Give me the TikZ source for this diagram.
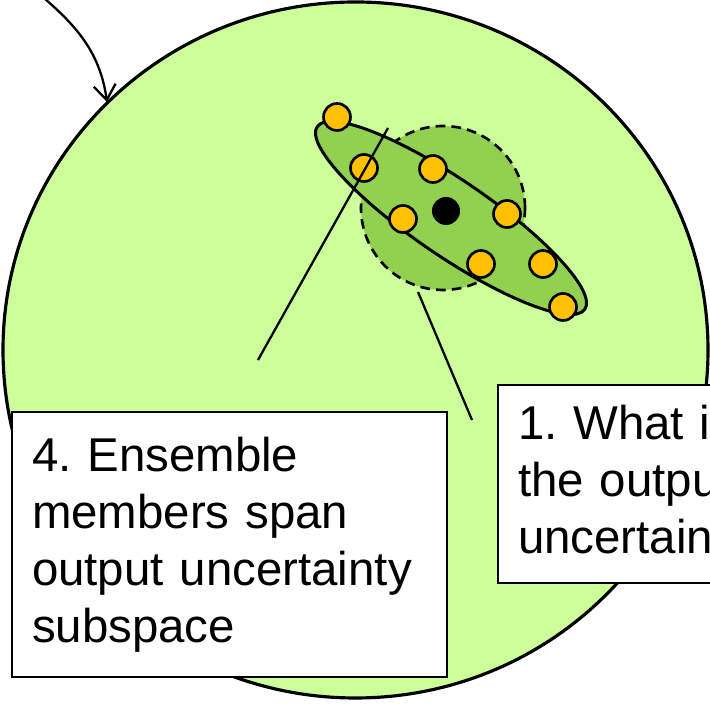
\documentclass[tikz,border=0pt]{standalone}
\usepackage{fontspec}
\setmainfont{Liberation Sans}
\usetikzlibrary{arrows.meta}
\definecolor{paleGreen}{HTML}{CCFF99}
\definecolor{midGreen}{HTML}{92D050}
\definecolor{memberOrange}{HTML}{FFC000}
\tikzset{
  space/.style={draw, line width=1.8pt, fill=paleGreen},
  spread/.style={draw, line width=1.5pt, dash pattern=on 5.5pt off 3.5pt, fill=midGreen},
  subspace/.style={draw, line width=1.7pt, fill=midGreen},
  member/.style={circle, draw, line width=1.5pt, fill=memberOrange, minimum size=0.54cm, inner sep=0pt},
  truth/.style={circle, fill=black, minimum size=0.56cm, inner sep=0pt},
  pointer/.style={line width=1.3pt},
  callout/.style={draw, line width=1.3pt, fill=white, align=left, inner xsep=0.4cm,
    font=\fontsize{27pt}{32.4pt}\selectfont}
}
\frenchspacing

\begin{document}
\begin{tikzpicture}[x=0.02cm, y=0.02cm]
  \useasboundingbox (0,0) rectangle (710,705);
  \clip (0,0) rectangle (710,705);

  % output space and its uncertainty
  \draw[space] (355.5,355) ellipse [x radius=352.5, y radius=348];
  \draw[spread] (443,497) circle [radius=82];
  \draw[subspace] (451,487) ellipse [x radius=162, y radius=38, rotate=-34.3];

  % ensemble members
  \node[member] (m1) at (337,588) {};
  \node[member] (m2) at (364,537) {};
  \node[member] (m3) at (433,536) {};
  \node[member] (m4) at (403,486) {};
  \node[member] (m5) at (507,491) {};
  \node[member] (m6) at (481,441) {};
  \node[member] (m7) at (543,441) {};
  \node[member] (m8) at (563,398) {};
  \node[truth] (t) at (446,494) {};

  % callouts
  \node[callout, text width=7.9cm, minimum height=5.3cm] (ensemblebox) at (229.5,160.5)
    {4. Ensemble\\members span\\output uncertainty\\subspace};
  \node[callout, text width=5.2cm, minimum height=3.96cm] (questionbox) at (648,221)
    {1. What is\\the output\\uncertainty?};

  \coordinate (p4a) at (388,577);
  \coordinate (p4b) at (258,345);
  \coordinate (p1a) at (418,413);
  \coordinate (p1b) at (472,285);
  \draw[pointer] (p4a) -- (p4b);
  \draw[pointer] (p1a) -- (p1b);

  % incoming arrow from above
  \coordinate (from) at (38,712);
  \coordinate (into) at (107,603);
  \draw[line width=1.3pt, -{Straight Barb[length=0.3cm, width=0.44cm]}]
    (from) to[out=-40, in=98] (into);
\end{tikzpicture}
\end{document}
